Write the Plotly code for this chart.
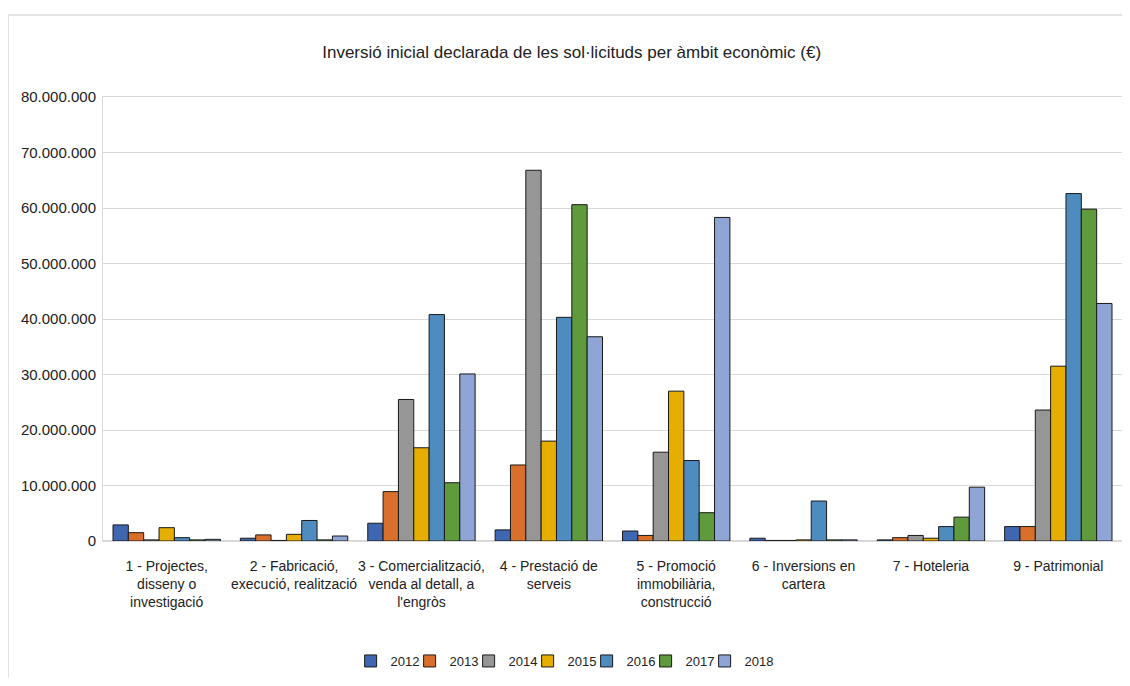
import plotly.graph_objects as go

categories = [
    "1 - Projectes,<br>disseny o<br>investigació",
    "2 - Fabricació,<br>execució, realització",
    "3 - Comercialització,<br>venda al detall, a<br>l'engròs",
    "4 - Prestació de<br>serveis",
    "5 - Promoció<br>immobiliària,<br>construcció",
    "6 - Inversions en<br>cartera",
    "7 - Hoteleria",
    "9 - Patrimonial",
]

years = ["2012", "2013", "2014", "2015", "2016", "2017", "2018"]

v2012 = [2900000, 500000, 3200000, 2000000, 1800000, 500000, 200000, 2600000]
v2013 = [1500000, 1100000, 8900000, 13700000, 1000000, 100000, 600000, 2600000]
v2014 = [200000, 100000, 25500000, 66800000, 16000000, 100000, 1000000, 23600000]
v2015 = [2400000, 1200000, 16800000, 18000000, 27000000, 200000, 500000, 31500000]
v2016 = [600000, 3700000, 40800000, 40300000, 14500000, 7200000, 2600000, 62600000]
v2017 = [200000, 200000, 10500000, 60600000, 5100000, 200000, 4300000, 59800000]
v2018 = [300000, 900000, 30100000, 36800000, 58300000, 200000, 9700000, 42800000]

series = [v2012, v2013, v2014, v2015, v2016, v2017, v2018]
colors = ["#3F67B1", "#D8702B", "#969696", "#E5AE00", "#4E8BBE", "#5F9A3C", "#8FA5D6"]

font_family = "Liberation Sans, Arial, sans-serif"

fig = go.Figure()
for y, vals, c in zip(years, series, colors):
    fig.add_trace(go.Bar(
        name=y, x=categories, y=vals,
        marker=dict(color=c, line=dict(color="#1a1a1a", width=1)),
    ))
# invisible spacer entry so the last legend label is not clipped
fig.add_trace(go.Scatter(x=[None], y=[None], mode="markers", name=" ",
                         marker=dict(color="rgba(0,0,0,0)", size=1,
                                     line=dict(width=0)),
                         hoverinfo="skip"))

PW, PH = 1019, 444

fig.update_layout(
    width=1114, height=670,
    barmode="group", bargap=0.157, bargroupgap=0,
    paper_bgcolor="white", plot_bgcolor="white",
    separators=",.",
    font=dict(family=font_family, size=13, color="#222222"),
    title=dict(text="Inversió inicial declarada de les sol·licituds per àmbit econòmic (€)",
               x=0.506, xanchor="center", y=1 - 44 / 670, yanchor="middle",
               font=dict(family=font_family, size=17, color="#222222")),
    margin=dict(l=95, r=0, t=89, b=137),
    legend=dict(orientation="h", x=0.243, xanchor="left", y=-120 / PH, yanchor="middle",
                font=dict(family=font_family, size=13, color="#222222"),
                itemwidth=30, entrywidth=14, entrywidthmode="pixels", tracegroupgap=0),
    xaxis=dict(showgrid=False, showline=True, mirror=True, linecolor="#D9D9D9", linewidth=1,
               ticks="", tickangle=0, tickfont=dict(size=14), ticklabelstandoff=12),
    yaxis=dict(range=[0, 80000000], dtick=10000000, tickformat=",d",
               showgrid=True, gridcolor="#D9D9D9", gridwidth=1,
               zeroline=True, zerolinecolor="#D9D9D9",
               showline=True, mirror=True, linecolor="#D9D9D9", linewidth=1,
               ticks="", tickfont=dict(size=15), ticklabelstandoff=3),
    shapes=[dict(type="rect", xref="paper", yref="paper",
                 x0=-95 / PW, x1=1 + 40 / PW, y0=-170 / PH, y1=1 + 82 / PH,
                 line=dict(color="#E3E3E3", width=2), fillcolor="rgba(0,0,0,0)",
                 layer="below")],
)

fig.write_html("out.html")
